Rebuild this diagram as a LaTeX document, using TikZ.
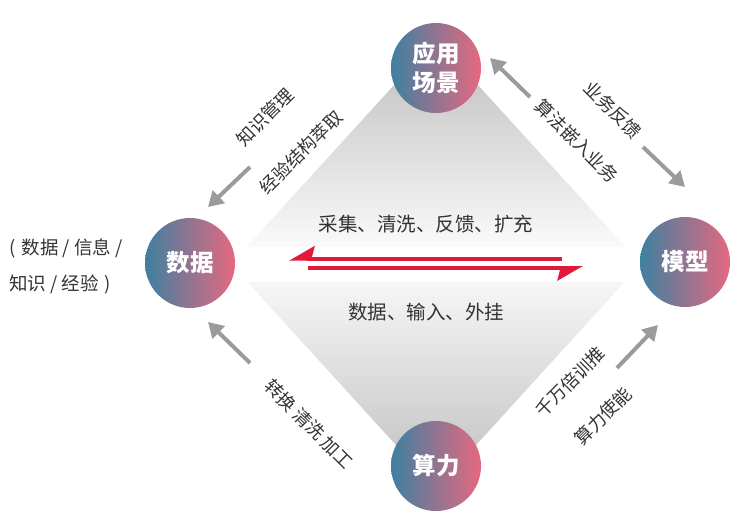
\documentclass[tikz,border=0pt]{standalone}
\usepackage{fontspec}
\setmainfont{Noto Sans CJK SC}
\usetikzlibrary{arrows.meta}
\definecolor{cblue}{RGB}{62,128,160}
\definecolor{cpink}{RGB}{230,104,128}
\definecolor{cred}{RGB}{226,24,56}
\definecolor{agray}{RGB}{155,155,155}
\definecolor{tgray}{RGB}{51,51,51}
\definecolor{dtop}{RGB}{188,188,188}
\definecolor{dbot}{RGB}{250,250,250}
\definecolor{ltop}{RGB}{246,246,246}
\definecolor{lbot}{RGB}{190,190,190}
\begin{document}
\begin{tikzpicture}[x=1pt,y=-1pt,
  circ/.style={circle, minimum size=90pt, inner sep=0pt, left color=cblue, right color=cpink, text=white, align=center, font=\fontsize{23.5}{29}\selectfont\bfseries},
  lbl/.style={text=tgray, inner sep=0pt, font=\fontsize{18}{22}\selectfont},
  midlbl/.style={text=tgray, inner sep=0pt, font=\fontsize{19.5}{24}\selectfont},
  sidelbl/.style={text=tgray, inner sep=0pt, anchor=west, font=\fontsize{18.5}{22}\selectfont},
  garrow/.style={draw=agray, line width=4pt, -{Triangle[length=15pt,width=17pt]}},
  rarrow/.style={draw=cred, line width=4pt, -{Stealth[harpoon,swap,length=22pt,width=25pt,inset=3pt]}}]
\useasboundingbox (0,0) rectangle (736,522);
\fill[white] (0,0) rectangle (736,522);
% diamond halves
\path[top color=dtop, bottom color=dbot] (436,39) -- (246.5,247) -- (625.5,247) -- cycle;
\path[top color=ltop, bottom color=lbot] (247.4,282) -- (624.6,282) -- (436,489) -- cycle;
% red harpoons
\coordinate (r1s) at (562,258.7);
\coordinate (r1e) at (289,258.7);
\coordinate (r2s) at (308,268);
\coordinate (r2e) at (583,268);
\draw[rarrow] (r1s) -- (r1e);
\draw[rarrow] (r2s) -- (r2e);
% middle labels
\node[midlbl] (m1) at (426,224) {采集、清洗、反馈、扩充};
\node[midlbl] (m2) at (426,312) {数据、输入、外挂};
% circles
\node[circ] (app) at (436,68) {应用\\场景};
\node[circ] (data) at (190,263) {数据};
\node[circ] (model) at (685,262) {模型};
\node[circ] (comp) at (436,466) {算力};
% side text
\node[sidelbl] (s1) at (9,248) {(\,\,数据 / 信息 /};
\node[sidelbl] (s2) at (9,284) {知识 / 经验\,\,)};
% gray arrows
\coordinate (g1s) at (250,167); \coordinate (g1e) at (208,207);
\coordinate (g2s) at (530,97);  \coordinate (g2e) at (490,58);
\coordinate (g3s) at (643,147); \coordinate (g3e) at (685,187);
\coordinate (g4s) at (250,363); \coordinate (g4e) at (208,322);
\coordinate (g5s) at (617,368); \coordinate (g5e) at (658,325);
\draw[garrow] (g1s) -- (g1e);
\draw[garrow] (g2s) -- (g2e);
\draw[garrow] (g3s) -- (g3e);
\draw[garrow] (g4s) -- (g4e);
\draw[garrow] (g5s) -- (g5e);
% diagonal labels
\node[lbl, rotate=45] (t1) at (265,117) {知识管理};
\node[lbl, rotate=45] (t2) at (301,152) {经验结构萃取};
\node[lbl, rotate=-45] (t3) at (613,110) {业务反馈};
\node[lbl, rotate=-45] (t4) at (577,141) {算法嵌入业务};
\node[lbl, rotate=-45] (t5) at (309,424) {转换 清洗 加工};
\node[lbl, rotate=45] (t6) at (570,382) {千万倍训推};
\node[lbl, rotate=45] (t7) at (603,416) {算力使能};
\end{tikzpicture}
\end{document}
